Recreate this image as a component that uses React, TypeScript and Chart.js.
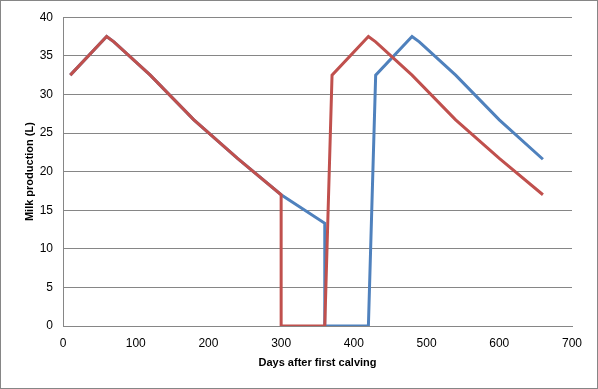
import React, { useEffect, useRef } from "react";
import { Chart, registerables } from "chart.js";

Chart.register(...registerables);

const blueDays = [10, 60, 70, 120, 180, 240, 300, 360, 360, 420, 430, 480, 490, 540, 600, 660];
const blueMilk = [32.5, 37.5, 36.8, 32.5, 26.7, 21.7, 17, 13.3, 0, 0, 32.5, 37.5, 36.8, 32.5, 26.7, 21.6];
const redDays = [10, 60, 70, 120, 180, 240, 300, 300, 360, 370, 420, 430, 480, 540, 600, 660];
const redMilk = [32.5, 37.5, 36.8, 32.5, 26.7, 21.7, 17, 0, 0, 32.5, 37.5, 36.8, 32.5, 26.7, 21.7, 17];

const xTitle = "Days after first calving";
const yTitle = "Milk production (L)";

const toPts = (xs: number[], ys: number[]) => xs.map((x, i) => ({ x, y: ys[i] }));

const borderPlugin = {
  id: "outerBorder",
  afterDraw(chart: any) {
    const ctx = chart.ctx;
    ctx.save();
    ctx.strokeStyle = "#868686";
    ctx.lineWidth = 1;
    ctx.strokeRect(0.5, 0.5, chart.width - 1, chart.height - 1);
    ctx.restore();
  },
};

export default function App() {
  const ref = useRef<HTMLCanvasElement | null>(null);
  useEffect(() => {
    if (!ref.current) return;
    const font = { family: "'Liberation Sans', Arial, sans-serif", size: 12 };
    const titleFont = { family: "'Liberation Sans', Arial, sans-serif", size: 11, weight: "bold" as const };
    const chart = new Chart(ref.current, {
      type: "scatter",
      data: {
        datasets: [
          {
            label: "Red",
            data: toPts(redDays, redMilk),
            showLine: true,
            borderColor: "#C0504D",
            backgroundColor: "#C0504D",
            borderWidth: 3,
            pointRadius: 0,
            tension: 0,
          },
          {
            label: "Blue",
            data: toPts(blueDays, blueMilk),
            showLine: true,
            borderColor: "#4F81BD",
            backgroundColor: "#4F81BD",
            borderWidth: 3,
            pointRadius: 0,
            tension: 0,
          },
        ],
      },
      options: {
        animation: false,
        responsive: false,
        maintainAspectRatio: false,
        layout: { padding: { left: 0, right: 26, top: 15, bottom: 0 } },
        plugins: { legend: { display: false }, tooltip: { enabled: false } },
        scales: {
          x: {
            type: "linear",
            min: 0,
            max: 700,
            ticks: { stepSize: 100, color: "#000", font, padding: 10 },
            grid: { display: false, drawTicks: false },
            border: { display: true, color: "#868686", width: 1 },
            title: {
              display: true,
              text: xTitle,
              color: "#000",
              font: titleFont,
              padding: { top: 0, bottom: 19 },
            },
            afterFit: (s: any) => {
              s.height = 63;
            },
          },
          y: {
            min: 0,
            max: 40,
            ticks: { stepSize: 5, color: "#000", font, padding: 10 },
            grid: { color: "#868686", drawTicks: false },
            border: { display: true, color: "#868686", width: 1 },
            title: {
              display: true,
              text: yTitle,
              color: "#000",
              font: titleFont,
              padding: { top: 23, bottom: 0 },
            },
            afterFit: (s: any) => {
              s.width = 63;
            },
          },
        },
      },
      plugins: [borderPlugin],
    });
    return () => chart.destroy();
  }, []);
  return (
    <div style={{ position: "absolute", left: 0, top: 0, width: 598, height: 389, background: "#fff" }}>
      <canvas ref={ref} width={598} height={389} style={{ width: 598, height: 389, display: "block" }} />
    </div>
  );
}
